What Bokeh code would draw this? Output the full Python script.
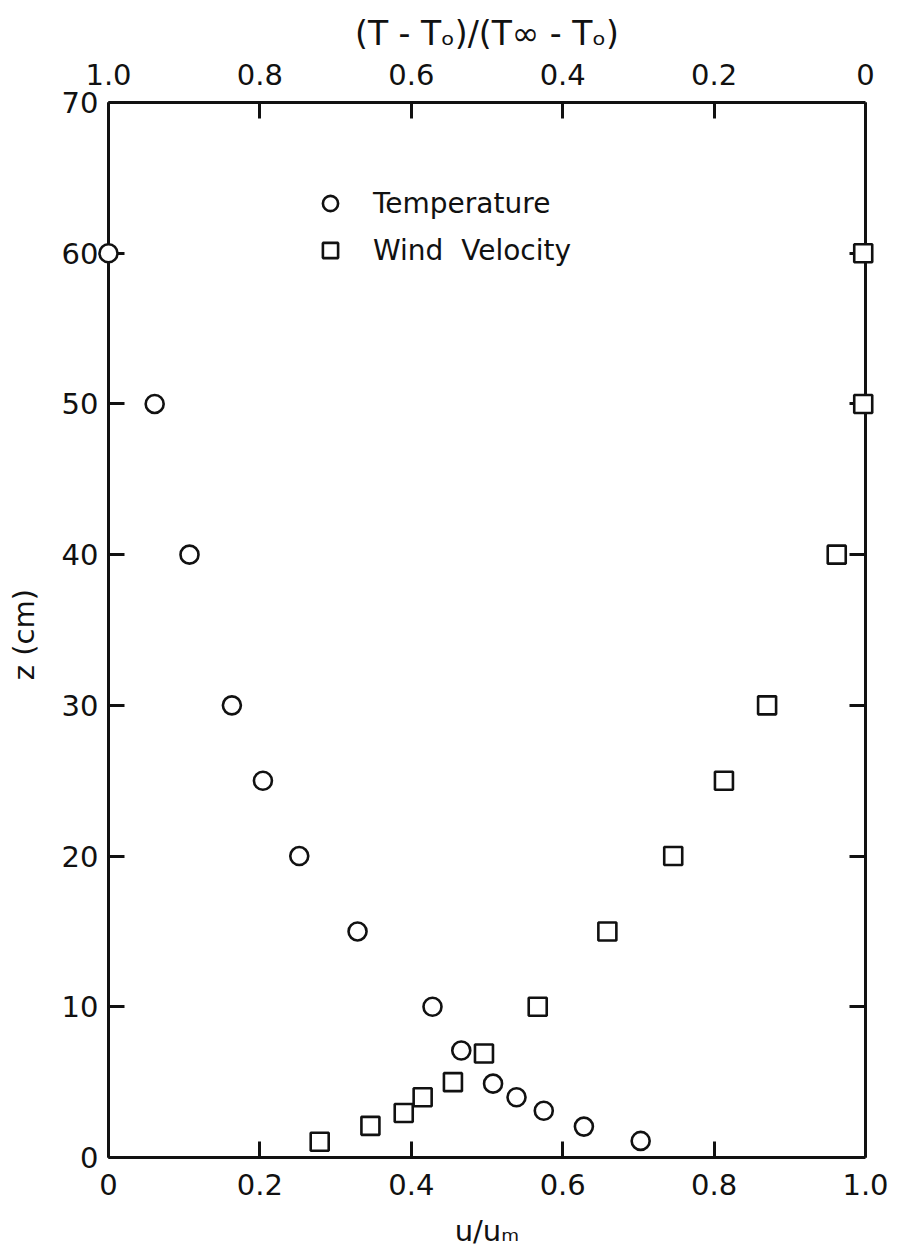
from bokeh.plotting import figure
from bokeh.models import (Range1d, LinearAxis, FixedTicker, CustomJSTickFormatter,
                          Legend, LegendItem, ColumnDataSource)
from bokeh.embed import file_html
from bokeh.resources import INLINE

# ---- data ----
temp_z = [60, 50, 40, 30, 25, 20, 15, 10, 7.1, 4.9, 4.0, 3.1, 2.05, 1.1]
# temperature ratio (T-To)/(Tinf-To), read on the top axis
temp_ratio = [1.0, 0.939, 0.893, 0.837, 0.796, 0.748, 0.671, 0.572, 0.534, 0.492,
              0.461, 0.425, 0.372, 0.297]
wind_z = [60, 50, 40, 30, 25, 20, 15, 10, 6.9, 5.0, 4.0, 2.95, 2.1, 1.05]
wind_u = [0.997, 0.997, 0.962, 0.870, 0.813, 0.746, 0.659, 0.567, 0.496, 0.455,
          0.415, 0.390, 0.346, 0.279]

bottom_ticks = [0, 0.2, 0.4, 0.6, 0.8, 1.0]
top_ticks = [1.0, 0.8, 0.6, 0.4, 0.2, 0.0]
y_ticks = [0, 10, 20, 30, 40, 50, 60, 70]
side_ticks = [10, 20, 30, 40, 50, 60]

FONT = "DejaVu Sans"
INK = "#111111"

p = figure(width=899, height=1252, output_backend="svg", toolbar_location=None,
           x_range=Range1d(0, 1), y_range=Range1d(0, 70),
           x_axis_location=None, y_axis_location=None,
           min_border_left=108, min_border_right=34, min_border_top=102,
           min_border_bottom=95)
p.outline_line_color = None
p.grid.visible = False
p.background_fill_color = "white"
p.border_fill_color = "white"
p.extra_x_ranges = {"theta": Range1d(1, 0)}

fmt = CustomJSTickFormatter(code="return tick == 0 ? '0' : tick.toFixed(1);")
blank = CustomJSTickFormatter(code="return '';")


def style(ax):
    ax.axis_line_width = 3
    ax.axis_line_color = INK
    ax.major_tick_line_width = 3
    ax.major_tick_line_color = INK
    ax.major_tick_in = 16
    ax.major_tick_out = 0
    ax.minor_tick_line_color = None
    ax.major_label_text_font = FONT
    ax.major_label_text_font_size = "29px"
    ax.major_label_text_color = INK
    ax.axis_label_text_font = FONT
    ax.axis_label_text_font_style = "normal"
    ax.axis_label_text_color = INK


bottom = LinearAxis(ticker=FixedTicker(ticks=bottom_ticks), formatter=fmt,
                    axis_label="u/uₘ")
style(bottom)
bottom.major_label_standoff = 16
bottom.axis_label_text_font_size = "29px"
bottom.axis_label_standoff = 16
p.add_layout(bottom, "below")

top = LinearAxis(x_range_name="theta", ticker=FixedTicker(ticks=top_ticks),
                 formatter=fmt, axis_label="(T - Tₒ)/(T∞ - Tₒ)")
style(top)
top.major_label_standoff = 18
top.axis_label_text_font_size = "33px"
top.axis_label_standoff = 8
p.add_layout(top, "above")

left = LinearAxis(ticker=FixedTicker(ticks=y_ticks), axis_label="z  (cm)")
style(left)
left.major_label_standoff = 10
left.axis_label_text_font_size = "29px"
left.axis_label_standoff = 18
p.add_layout(left, "left")

right = LinearAxis(ticker=FixedTicker(ticks=side_ticks), formatter=blank)
style(right)
p.add_layout(right, "right")

src_t = ColumnDataSource(dict(ratio=temp_ratio, z=temp_z))
src_w = ColumnDataSource(dict(u=wind_u, z=wind_z))

r_t = p.scatter(x="ratio", y="z", source=src_t, x_range_name="theta", marker="circle",
                size=18, fill_color="white", line_color=INK, line_width=2.6,
                level="overlay")
r_w = p.scatter(x="u", y="z", source=src_w, marker="square", size=18,
                fill_color="white", line_color=INK, line_width=2.6, level="overlay")

legend = Legend(items=[LegendItem(label="Temperature", renderers=[r_t]),
                       LegendItem(label="Wind  Velocity", renderers=[r_w])],
                location=(203, 888), glyph_width=38, glyph_height=38,
                spacing=9, padding=0, margin=0, label_standoff=24,
                border_line_color=None, background_fill_alpha=0,
                label_text_font=FONT, label_text_font_size="28px",
                label_text_color=INK)
p.add_layout(legend, "center")

open("out.html", "w").write(file_html(p, INLINE))
